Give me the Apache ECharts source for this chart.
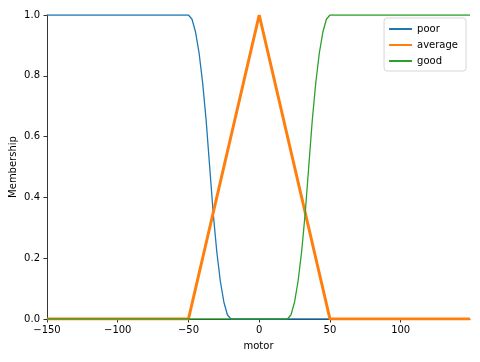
<!DOCTYPE html>
<html>
<head>
<meta charset="utf-8">
<script src="https://cdn.jsdelivr.net/npm/echarts@6/dist/echarts.min.js"></script>
<style>html,body{margin:0;padding:0;background:#fff}#c{width:480px;height:362px}</style>
</head>
<body>
<div id="c"></div>
<script>
// Data
const poorX = [-150, -50, -47.5, -45, -42.5, -40, -37.5, -35, -32.5, -30, -27.5, -25, -22.5, -20, 149];
const poorY = [1, 1, 0.986, 0.944, 0.875, 0.778, 0.653, 0.5, 0.347, 0.222, 0.125, 0.056, 0.014, 0, 0];
const averageX = [-150, -50, 0, 50, 149];
const averageY = [0, 0, 1, 0, 0];
const goodX = [-150, 20, 22.5, 25, 27.5, 30, 32.5, 35, 37.5, 40, 42.5, 45, 47.5, 50, 149];
const goodY = [0, 0, 0.014, 0.056, 0.125, 0.222, 0.347, 0.5, 0.653, 0.778, 0.875, 0.944, 0.986, 1, 1];
const xTicks = [-150, -100, -50, 0, 50, 100];
const yTicks = [0, 0.2, 0.4, 0.6, 0.8, 1.0];

const zip = (xs, ys) => xs.map((x, i) => [x, ys[i]]);
const font = 'DejaVu Sans';
const chart = echarts.init(document.getElementById('c'), null, {renderer: 'canvas'});
chart.setOption({
  animation: false,
  backgroundColor: '#fff',
  grid: {left: 47, right: 10, top: 15, bottom: 43, containLabel: false, outerBoundsMode: 'none'},
  legend: {
    orient: 'vertical', right: 14, top: 18,
    data: ['poor', 'average', 'good'],
    itemWidth: 23, itemHeight: 10, itemGap: 6,
    padding: [6, 8, 5, 4],
    borderColor: '#d6d6d6', borderWidth: 1, borderRadius: 3,
    backgroundColor: 'rgba(255,255,255,0.8)',
    itemStyle: {opacity: 0},
    textStyle: {fontFamily: font, fontSize: 10, color: '#000'}
  },
  xAxis: {
    type: 'value', min: -150, max: 149, interval: 50,
    name: 'motor', nameLocation: 'middle', nameGap: 22, nameMoveOverlap: false,
    nameTextStyle: {fontFamily: font, fontSize: 10, color: '#000'},
    axisLine: {show: true, onZero: false, lineStyle: {color: '#000', width: 0.8}},
    axisTick: {show: true, length: 3.5, customValues: xTicks, lineStyle: {color: '#000', width: 0.8}},
    axisLabel: {customValues: xTicks, fontFamily: font, fontSize: 10, color: '#000', margin: 6,
      formatter: v => String(v).replace('-', '\u2212')},
    splitLine: {show: false}
  },
  yAxis: {
    type: 'value', min: 0, max: 1, interval: 0.2,
    name: 'Membership', nameLocation: 'middle', nameGap: 29, nameRotate: 90, nameMoveOverlap: false,
    nameTextStyle: {fontFamily: font, fontSize: 10, color: '#000'},
    axisLine: {show: true, onZero: false, lineStyle: {color: '#000', width: 0.8}},
    axisTick: {show: true, length: 3.5, customValues: yTicks, lineStyle: {color: '#000', width: 0.8}},
    axisLabel: {customValues: yTicks, fontFamily: font, fontSize: 10, color: '#000', margin: 7,
      formatter: v => v.toFixed(1)},
    splitLine: {show: false}
  },
  series: [
    {name: 'poor', type: 'line', data: zip(poorX, poorY), symbol: 'none', smooth: false,
      color: '#1f77b4', lineStyle: {width: 1.3, color: '#1f77b4'}},
    {name: 'average', type: 'line', data: zip(averageX, averageY), symbol: 'none',
      color: '#ff7f0e', lineStyle: {width: 3, color: '#ff7f0e'}},
    {name: 'good', type: 'line', data: zip(goodX, goodY), symbol: 'none',
      color: '#2ca02c', lineStyle: {width: 1.3, color: '#2ca02c'}}
  ]
});
</script>
</body>
</html>
